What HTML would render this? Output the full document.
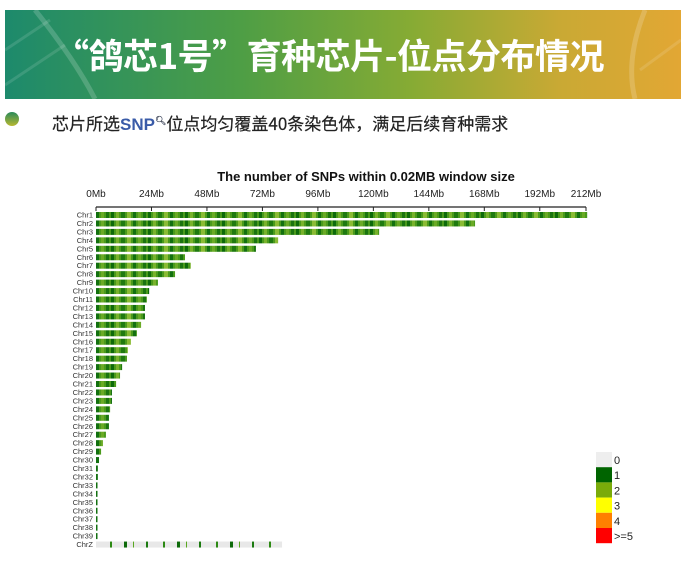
<!DOCTYPE html>
<html><head><meta charset="utf-8"><style>
body{margin:0;width:686px;height:570px;background:#fff;overflow:hidden;font-family:"Liberation Sans","Noto Sans CJK SC",sans-serif;position:relative}
#banner{position:absolute;left:5px;top:10px;width:676px;height:89px;background:linear-gradient(90deg,#1d8a6c 0%,#4e9e45 35%,#86ab34 60%,#c9a934 82%,#e2a734 100%);overflow:hidden}
#banner h1{margin:0;position:absolute;left:-14px;width:676px;top:19px;text-align:center;color:#fff;font-size:35px;font-weight:bold;font-family:"Noto Sans CJK SC",sans-serif;letter-spacing:-0.5px;white-space:nowrap}
#sub{position:absolute;left:52px;top:110px;font-size:17px;color:#222;font-family:"Noto Sans CJK SC",sans-serif;font-weight:normal;white-space:nowrap;-webkit-text-stroke:0.2px #222}
#sub b{color:#3a5ba8;font-weight:bold;font-family:"Liberation Sans",sans-serif;-webkit-text-stroke:0}
#dot{position:absolute;left:5px;top:112px;width:14px;height:14px;border-radius:50%;background:linear-gradient(#2a8a5a,#b8b830)}
svg{position:absolute;left:0;top:0}
</style></head><body>
<div id="banner">
<svg width="676" height="89"><path d="M30 0 Q70 50 90 89" stroke="rgba(255,255,255,0.18)" stroke-width="5" fill="none"/><path d="M0 40 L45 10 M0 75 L60 35" stroke="rgba(255,255,255,0.12)" stroke-width="3"/><path d="M640 0 Q620 50 630 89" stroke="rgba(255,255,255,0.18)" stroke-width="5" fill="none"/><path d="M676 30 L635 60" stroke="rgba(255,255,255,0.12)" stroke-width="3"/></svg>
<h1>“鸽芯1号”育种芯片-位点分布情况</h1></div>
<div id="dot"></div>
<div id="sub">芯片所选<b>SNP</b><sup style="color:#3a5ba8;font-size:9px">🔍︎</sup>位点均匀覆盖40条染色体，满足后续育种需求</div>
<svg id="chart" width="686" height="570">
<defs>
<pattern id="stripes" width="37" height="6" patternUnits="userSpaceOnUse">
<rect width="37" height="6" fill="#4a9a1c"/><rect x="0" width="3" height="6" fill="#0d6a0a"/><rect x="5" width="3" height="6" fill="#78b22c"/><rect x="10" width="4" height="6" fill="#1f7a10"/><rect x="16" width="4" height="6" fill="#8abb34"/><rect x="22" width="3" height="6" fill="#137010"/><rect x="27" width="3" height="6" fill="#6aaa26"/><rect x="32" width="3" height="6" fill="#1b7410"/>
</pattern>
<pattern id="zstripes" width="53" height="6" patternUnits="userSpaceOnUse">
<rect width="53" height="6" fill="#e8e8e8"/><rect x="4" width="2" height="6" fill="#2d8a14"/><rect x="18" width="3" height="6" fill="#0d6a0a"/><rect x="27" width="1" height="6" fill="#5aa820"/><rect x="40" width="2" height="6" fill="#1b7a10"/>
</pattern>
</defs>
<text x="366" y="181" text-anchor="middle" font-size="13" font-weight="bold" fill="#111">The number of SNPs within 0.02MB window size</text>
<g id="axis"></g><g id="bars"></g><g id="legend"></g>
</svg>
<script>
const chrNames=["Chr1","Chr2","Chr3","Chr4","Chr5","Chr6","Chr7","Chr8","Chr9","Chr10","Chr11","Chr12","Chr13","Chr14","Chr15","Chr16","Chr17","Chr18","Chr19","Chr20","Chr21","Chr22","Chr23","Chr24","Chr25","Chr26","Chr27","Chr28","Chr29","Chr30","Chr31","Chr32","Chr33","Chr34","Chr35","Chr36","Chr37","Chr38","Chr39","ChrZ"];
const chrLengthMb=[212.5,164,122.5,78.8,69.2,38.5,41,34.2,26.8,23,22,21.2,21.2,19.5,17.7,15.1,13.8,13.4,11.3,10.4,8.7,6.9,6.9,6.1,5.6,5.6,4.3,3.0,2.2,1.3,0.8,0.8,0.6,0.6,0.6,0.6,0.4,0.4,0.3,80.5];
const tickValues=[0,24,48,72,96,120,144,168,192,212];
const legendLabels=["0","1","2","3","4",">=5"];
const legendColors=["#eeeeee","#006400","#7aab0a","#ffff00","#ff8000","#ff0000"];
const NS="http://www.w3.org/2000/svg";
const x0=96,pxPerMb=490/212,axisY=207,rowY0=212,rowStep=8.45;
const xs=v=>x0+v*pxPerMb, ys=i=>rowY0+i*rowStep;
function mk(t,a,p){const e=document.createElementNS(NS,t);for(const k in a)e.setAttribute(k,a[k]);p.appendChild(e);return e;}
const ax=document.getElementById('axis');
const al=mk('line',{x1:xs(0),x2:xs(212),y1:axisY,y2:axisY,stroke:'#222','stroke-width':1.2},ax);


tickValues.forEach(v=>{
 const l=mk('line',{x1:xs(v),x2:xs(v),y1:axisY,y2:axisY+4,stroke:'#222'},ax);
 
 
 const t=mk('text',{x:xs(v),y:197,'text-anchor':'middle','font-size':10,fill:'#222'},ax);
 t.textContent=v+'Mb';
 
 
});
const bg=document.getElementById('bars');
chrNames.forEach((n,i)=>{
 const y=ys(i);
 const t=mk('text',{x:93,y:y+5.5,'text-anchor':'end','font-size':7.5,fill:'#333'},bg);
 t.textContent=n;
 
 
 const r=mk('rect',{x:xs(0),y:y,width:Math.max(1.5,chrLengthMb[i]*pxPerMb),height:6,fill:n==='ChrZ'?'url(#zstripes)':'url(#stripes)'},bg);
 
 
});
const lg=document.getElementById('legend');
legendLabels.forEach((s,i)=>{
 const y=452+i*15.2;
 const r=mk('rect',{x:596,y:y,width:16,height:15.2,fill:legendColors[i]},lg);
 
 
 const t=mk('text',{x:614,y:y+12,'font-size':11,fill:'#222'},lg);
 t.textContent=s;
 
 
});
</script>
</body></html>
